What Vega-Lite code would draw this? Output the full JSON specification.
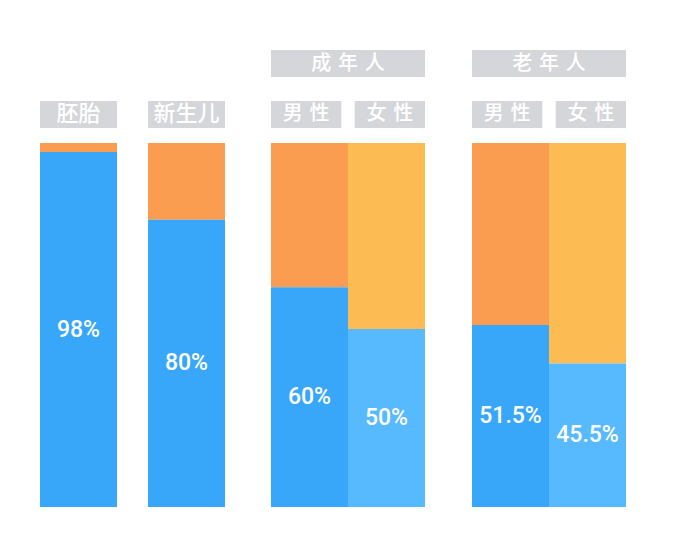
{
  "$schema": "https://vega.github.io/schema/vega-lite/v6.json",
  "padding": {"left": 40, "top": 50, "right": 0, "bottom": 0},
  "background": "white",
  "datasets": {
    "water": [
      {"group": "胚胎", "item": "胚胎", "water": 97.5, "label": "98%"},
      {"group": "新生儿", "item": "新生儿", "water": 78.9, "label": "80%"},
      {"group": "成\u2004年\u2004人", "item": "男\u2004性", "water": 60.4, "label": "60%"},
      {"group": "成\u2004年\u2004人", "item": "女\u2004性", "water": 48.9, "label": "50%"},
      {"group": "老\u2004年\u2004人", "item": "男\u2004性", "water": 50.0, "label": "51.5%"},
      {"group": "老\u2004年\u2004人", "item": "女\u2004性", "water": 39.4, "label": "45.5%"}
    ]
  },
  "spacing": 46,
  "hconcat": [
    {
      "spacing": 31,
      "hconcat": [
        {
          "spacing": 15,
          "vconcat": [
            {
              "width": 77, "height": 78,
              "data": {"name": "water"},
              "transform": [{"filter": {"field": "group", "equal": "胚胎"}}],
              "encoding": {
                "x": {"field": "item", "type": "nominal", "axis": null, "scale": {"paddingInner": 0.16, "paddingOuter": 0}},
                "y": {"datum": "sub", "type": "nominal", "axis": null, "scale": {"domain": ["group", "sub"], "paddingInner": 0.47, "paddingOuter": 0}}
              },
              "layer": [
                {"mark": {"type": "rect", "color": "#D5D6DA"}},
                {"mark": {"type": "text", "font": "Noto Sans CJK SC", "fontWeight": 500, "fontSize": 22, "color": "white"}, "encoding": {"text": {"field": "item"}}}
              ]
            },
            {
              "width": 77, "height": 364,
              "data": {"name": "water"},
              "transform": [{"filter": {"field": "group", "equal": "胚胎"}}],
              "encoding": {"x": {"field": "item", "type": "nominal", "axis": null, "scale": {"paddingInner": 0, "paddingOuter": 0}}},
              "layer": [
                {"mark": "bar", "encoding": {
                  "y": {"field": "water", "type": "quantitative", "axis": null, "scale": {"domain": [0, 100]}},
                  "y2": {"datum": 100},
                  "color": {"value": "#FB9D51"}}},
                {"mark": "bar", "encoding": {
                  "y": {"field": "water", "type": "quantitative", "axis": null, "scale": {"domain": [0, 100]}},
                  "color": {"value": "#38A7F9"}}},
                {"mark": {"type": "text", "font": "Roboto", "fontWeight": 500, "fontSize": 23, "color": "white"}, "encoding": {
                  "y": {"field": "water", "type": "quantitative", "axis": null, "scale": {"domain": [0, 200]}},
                  "text": {"field": "label"}}}
              ],
              "resolve": {"scale": {"y": "independent"}}
            }
          ]
        },
        {
          "spacing": 15,
          "vconcat": [
            {
              "width": 77, "height": 78,
              "data": {"name": "water"},
              "transform": [{"filter": {"field": "group", "equal": "新生儿"}}],
              "encoding": {
                "x": {"field": "item", "type": "nominal", "axis": null, "scale": {"paddingInner": 0.16, "paddingOuter": 0}},
                "y": {"datum": "sub", "type": "nominal", "axis": null, "scale": {"domain": ["group", "sub"], "paddingInner": 0.47, "paddingOuter": 0}}
              },
              "layer": [
                {"mark": {"type": "rect", "color": "#D5D6DA"}},
                {"mark": {"type": "text", "font": "Noto Sans CJK SC", "fontWeight": 500, "fontSize": 22, "color": "white"}, "encoding": {"text": {"field": "item"}}}
              ]
            },
            {
              "width": 77, "height": 364,
              "data": {"name": "water"},
              "transform": [{"filter": {"field": "group", "equal": "新生儿"}}],
              "encoding": {"x": {"field": "item", "type": "nominal", "axis": null, "scale": {"paddingInner": 0, "paddingOuter": 0}}},
              "layer": [
                {"mark": "bar", "encoding": {
                  "y": {"field": "water", "type": "quantitative", "axis": null, "scale": {"domain": [0, 100]}},
                  "y2": {"datum": 100},
                  "color": {"value": "#FB9D51"}}},
                {"mark": "bar", "encoding": {
                  "y": {"field": "water", "type": "quantitative", "axis": null, "scale": {"domain": [0, 100]}},
                  "color": {"value": "#38A7F9"}}},
                {"mark": {"type": "text", "font": "Roboto", "fontWeight": 500, "fontSize": 23, "color": "white"}, "encoding": {
                  "y": {"field": "water", "type": "quantitative", "axis": null, "scale": {"domain": [0, 200]}},
                  "text": {"field": "label"}}}
              ],
              "resolve": {"scale": {"y": "independent"}}
            }
          ]
        }
      ]
    },
    {
      "spacing": 47,
      "hconcat": [
        {
          "spacing": 15,
          "vconcat": [
            {
              "width": 154, "height": 78,
              "data": {"name": "water"},
              "transform": [{"filter": {"field": "group", "equal": "成\u2004年\u2004人"}}],
              "layer": [
                {
                  "transform": [{"aggregate": [{"op": "count", "as": "n"}], "groupby": ["group"]}],
                  "encoding": {
                    "y": {"datum": "group", "type": "nominal", "axis": null, "scale": {"domain": ["group", "sub"], "paddingInner": 0.47, "paddingOuter": 0}}
                  },
                  "layer": [
                    {"mark": {"type": "rect", "color": "#D5D6DA"}},
                    {"mark": {"type": "text", "font": "Noto Sans CJK SC", "fontWeight": 500, "fontSize": 20, "color": "white"}, "encoding": {"text": {"field": "group"}}}
                  ]
                },
                {
                  "encoding": {
                    "x": {"field": "item", "type": "nominal", "axis": null, "sort": null, "scale": {"paddingInner": 0.16, "paddingOuter": 0}},
                    "y": {"datum": "sub", "type": "nominal", "axis": null, "scale": {"domain": ["group", "sub"], "paddingInner": 0.47, "paddingOuter": 0}}
                  },
                  "layer": [
                    {"mark": {"type": "rect", "color": "#D5D6DA"}},
                    {"mark": {"type": "text", "font": "Noto Sans CJK SC", "fontWeight": 500, "fontSize": 20, "color": "white"}, "encoding": {"text": {"field": "item"}}}
                  ]
                }
              ]
            },
            {
              "width": 154, "height": 364,
              "data": {"name": "water"},
              "transform": [{"filter": {"field": "group", "equal": "成\u2004年\u2004人"}}],
              "encoding": {"x": {"field": "item", "type": "nominal", "axis": null, "sort": null, "scale": {"paddingInner": 0, "paddingOuter": 0}}},
              "layer": [
                {"mark": "bar", "encoding": {
                  "y": {"field": "water", "type": "quantitative", "axis": null, "scale": {"domain": [0, 100]}},
                  "y2": {"datum": 100},
                  "color": {"condition": {"test": {"field": "item", "equal": "女\u2004性"}, "value": "#FCBC53"}, "value": "#FB9D51"}}},
                {"mark": "bar", "encoding": {
                  "y": {"field": "water", "type": "quantitative", "axis": null, "scale": {"domain": [0, 100]}},
                  "color": {"condition": {"test": {"field": "item", "equal": "女\u2004性"}, "value": "#57B9FE"}, "value": "#38A7F9"}}},
                {"mark": {"type": "text", "font": "Roboto", "fontWeight": 500, "fontSize": 23, "color": "white"}, "encoding": {
                  "y": {"field": "water", "type": "quantitative", "axis": null, "scale": {"domain": [0, 200]}},
                  "text": {"field": "label"}}}
              ],
              "resolve": {"scale": {"y": "independent"}}
            }
          ]
        },
        {
          "spacing": 15,
          "vconcat": [
            {
              "width": 154, "height": 78,
              "data": {"name": "water"},
              "transform": [{"filter": {"field": "group", "equal": "老\u2004年\u2004人"}}],
              "layer": [
                {
                  "transform": [{"aggregate": [{"op": "count", "as": "n"}], "groupby": ["group"]}],
                  "encoding": {
                    "y": {"datum": "group", "type": "nominal", "axis": null, "scale": {"domain": ["group", "sub"], "paddingInner": 0.47, "paddingOuter": 0}}
                  },
                  "layer": [
                    {"mark": {"type": "rect", "color": "#D5D6DA"}},
                    {"mark": {"type": "text", "font": "Noto Sans CJK SC", "fontWeight": 500, "fontSize": 20, "color": "white"}, "encoding": {"text": {"field": "group"}}}
                  ]
                },
                {
                  "encoding": {
                    "x": {"field": "item", "type": "nominal", "axis": null, "sort": null, "scale": {"paddingInner": 0.16, "paddingOuter": 0}},
                    "y": {"datum": "sub", "type": "nominal", "axis": null, "scale": {"domain": ["group", "sub"], "paddingInner": 0.47, "paddingOuter": 0}}
                  },
                  "layer": [
                    {"mark": {"type": "rect", "color": "#D5D6DA"}},
                    {"mark": {"type": "text", "font": "Noto Sans CJK SC", "fontWeight": 500, "fontSize": 20, "color": "white"}, "encoding": {"text": {"field": "item"}}}
                  ]
                }
              ]
            },
            {
              "width": 154, "height": 364,
              "data": {"name": "water"},
              "transform": [{"filter": {"field": "group", "equal": "老\u2004年\u2004人"}}],
              "encoding": {"x": {"field": "item", "type": "nominal", "axis": null, "sort": null, "scale": {"paddingInner": 0, "paddingOuter": 0}}},
              "layer": [
                {"mark": "bar", "encoding": {
                  "y": {"field": "water", "type": "quantitative", "axis": null, "scale": {"domain": [0, 100]}},
                  "y2": {"datum": 100},
                  "color": {"condition": {"test": {"field": "item", "equal": "女\u2004性"}, "value": "#FCBC53"}, "value": "#FB9D51"}}},
                {"mark": "bar", "encoding": {
                  "y": {"field": "water", "type": "quantitative", "axis": null, "scale": {"domain": [0, 100]}},
                  "color": {"condition": {"test": {"field": "item", "equal": "女\u2004性"}, "value": "#57B9FE"}, "value": "#38A7F9"}}},
                {"mark": {"type": "text", "font": "Roboto", "fontWeight": 500, "fontSize": 23, "color": "white"}, "encoding": {
                  "y": {"field": "water", "type": "quantitative", "axis": null, "scale": {"domain": [0, 200]}},
                  "text": {"field": "label"}}}
              ],
              "resolve": {"scale": {"y": "independent"}}
            }
          ]
        }
      ]
    }
  ],
  "config": {"view": {"stroke": null}}
}
